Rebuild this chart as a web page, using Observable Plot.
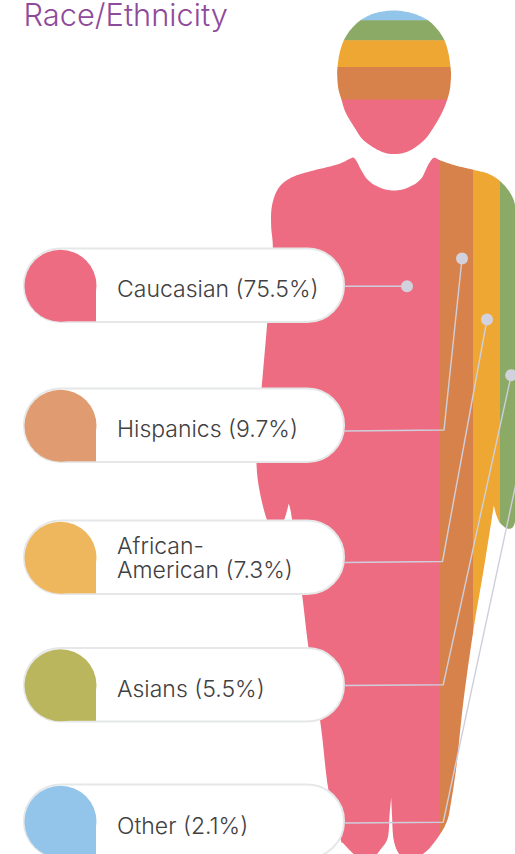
<!DOCTYPE html>
<html>
<head>
<meta charset="utf-8">
<style>html,body{margin:0;padding:0;background:#fff;overflow:hidden}svg{display:block}</style>
<script src="https://cdn.jsdelivr.net/npm/d3@7"></script>
<script src="https://cdn.jsdelivr.net/npm/@observablehq/plot@0.6"></script>
</head>
<body>
<script>
// Values
const categories = ["Caucasian", "Hispanics", "African-American", "Asians", "Other"];
const shares = [75.5, 9.7, 7.3, 5.5, 2.1];
const labels = ["Caucasian (75.5%)", "Hispanics (9.7%)", "African-\nAmerican (7.3%)", "Asians (5.5%)", "Other (2.1%)"];
const figureColors = ["#ED6C82", "#D8824B", "#EEA733", "#8BAA66", "#93C4EA"];
const swatchColors = ["#ED6C82", "#E09C70", "#EEB75E", "#BAB65E", "#93C4EA"];

// Band boundaries on the figure (body runs left to right, head bottom to top)
const bodyEdges = [200, 439.5, 472.5, 499.5, 560, 600];
const headEdges = [170, 99, 66.4, 39.7, 19.7, 0];

// Silhouette outlines
const headOutline = [[393.3,10],[411,12.5],[426.7,19.3],[437,29],[444,40],[448,53],[450,66.7],[450.5,75],[449.5,88],[446.7,99.3],[441.7,111.7],[433,127],[423.3,140],[408,150.7],[393.3,153.5],[380,150.7],[363.3,140],[354,127],[345,111.7],[341,99.3],[337.8,88],[336.7,75],[337,66.7],[339,53],[343.3,40],[350.3,29],[360.7,19.3],[375,12.5]];
const bodyOutline = [[353.3,157.3],[356.7,161.7],[360,168.3],[365,176.7],[370,181.7],[375,185],[384,188.7],[393.3,190],[403,188.7],[411.7,185],[417,181.7],[421.7,176.7],[425,170],[428.3,163.3],[433.3,157.3],[440,160],[455,165],[473,169.3],[488.3,173.5],[500,181],[510,193],[515,207],[519,240],[521,370],[521,490],[518,508],[515,520],[512,527],[506.7,528],[500,523],[496,515],[493.3,505],[493.3,505],[483,570],[473.3,627],[463,700],[456,765],[450,805],[446.7,820],[440,833],[426.7,850],[412,858],[400,855],[393.3,840],[391.5,815],[390.7,797],[390.7,797],[389,815],[387.3,837],[380,849],[372,857],[358,857],[343,843],[340,838],[328,790],[320,723],[308,647],[301.7,595],[291.7,520],[288.3,503],[288.3,503],[283.3,520],[275,531],[266.7,520],[259,490],[256,463],[257,430],[261,388],[266.7,323],[269.7,285],[272.3,248.3],[270.7,226.7],[271,208.3],[275,193.3],[281.7,183.3],[293.3,176],[310,170.7],[336.7,164],[350,158]];

// Legend pills
const pillTops = [248.5, 388.5, 520.5, 648, 784.5];
const labelY = [289, 429, 557.5, 689, 826];

// Leader lines: pill edge, elbow, point on the figure
const leaderX = [[344,406.5],[344,443.5,461.5],[344,442,486.5],[344,442.7,510.7],[344,442.7,535]];
const leaderY = [[285.7,285.7],[430.5,429.5,258],[562,561,319],[685,684.3,374.7],[822.5,821.7,392]];
const leaderDots = [[406.5,285.7],[461.5,258],[486.5,319],[510.7,374.7]];

// Closed Catmull-Rom resampling so band clipping follows the curve
function smooth(pts, n = 12) {
  const out = [], m = pts.length;
  for (let i = 0; i < m; i++) {
    const [a,b,c,d] = [pts[(i-1+m)%m], pts[i], pts[(i+1)%m], pts[(i+2)%m]];
    for (let k = 0; k < n; k++) {
      const t = k/n, t2 = t*t, t3 = t2*t;
      out.push([0,1].map(j => 0.5*(2*b[j] + (c[j]-a[j])*t + (2*a[j]-5*b[j]+4*c[j]-d[j])*t2 + (3*b[j]-a[j]-3*c[j]+d[j])*t3)));
    }
  }
  return out;
}
// Clip a polygon to the half-plane: axis coordinate on one side of v
function clip(poly, axis, v, keepGreater) {
  const out = [], inside = p => keepGreater ? p[axis] >= v : p[axis] <= v;
  poly.forEach((p, i) => {
    const q = poly[(i+1)%poly.length], pi = inside(p), qi = inside(q);
    if (pi) out.push(p);
    if (pi !== qi) {
      const t = (v-p[axis])/(q[axis]-p[axis]);
      out.push([p[0]+(q[0]-p[0])*t, p[1]+(q[1]-p[1])*t]);
    }
  });
  return out;
}
const bands = [];
const bodySmooth = smooth(bodyOutline), headSmooth = smooth(headOutline);
// Each later band runs slightly under the band before it, so no seam shows
const seam = 0.6;
categories.forEach((race, i) => {
  clip(clip(bodySmooth,0,bodyEdges[i]-seam,true),0,bodyEdges[i+1],false)
    .forEach(([x,y]) => bands.push({part:"body"+i, race, x, y}));
  clip(clip(headSmooth,1,headEdges[i]+seam,false),1,headEdges[i+1],true)
    .forEach(([x,y]) => bands.push({part:"head"+i, race, x, y}));
});
const painted = bands.slice().reverse();

const legend = categories.map((race,i) => ({race, share:shares[i], label:labels[i], swatch:swatchColors[i], top:pillTops[i], labelY:labelY[i]}));
const leaders = leaderX.flatMap((xs,i) => xs.map((x,j) => ({i, x, y:leaderY[i][j]})));

const font = "Inter, 'Liberation Sans', sans-serif";
const chart = Plot.plot({
  width: 515, height: 854, margin: 0,
  style: {background:"#fff"},
  x: {axis:null, domain:[0,515], range:[0,515]},
  y: {axis:null, domain:[854,0], range:[854,0]},
  color: {domain:categories, range:figureColors},
  marks: [
    Plot.line(painted, {x:"x", y:"y", z:"part", fill:"race", stroke:"none", curve:"linear"}),
    Plot.rect(legend, {x1:()=>24, x2:()=>344, y1:"top", y2:d=>d.top+73.5, rx:36.5, fill:"#fff", stroke:"#E6E7E8", strokeWidth:2}),
    Plot.dot(legend, {x:()=>60, y:d=>d.top+36.8, r:36, fill:"swatch", stroke:"none"}),
    Plot.rect(legend, {x1:()=>60, x2:()=>96, y1:d=>d.top+36.8, y2:d=>d.top+72.8, fill:"swatch"}),
    Plot.line(leaders, {x:"x", y:"y", z:"i", stroke:"#CFCFDC", strokeWidth:1.4, curve:"linear"}),
    Plot.dot(leaderDots, {x:d=>d[0], y:d=>d[1], r:6, fill:"#D1D2DE", stroke:"none"}),
    Plot.text(legend, {x:()=>116.5, y:"labelY", text:"label", textAnchor:"start", fontSize:23, lineHeight:1.04, fill:"#414042", fontFamily:font, fontWeight:300}),
    Plot.text(["Race/Ethnicity"], {x:()=>23, y:()=>16, text:d=>d, textAnchor:"start", fontSize:30.8, fill:"#8E4B9B", fontFamily:font, fontWeight:300})
  ]
});
document.body.append(chart);
</script>
</body>
</html>
